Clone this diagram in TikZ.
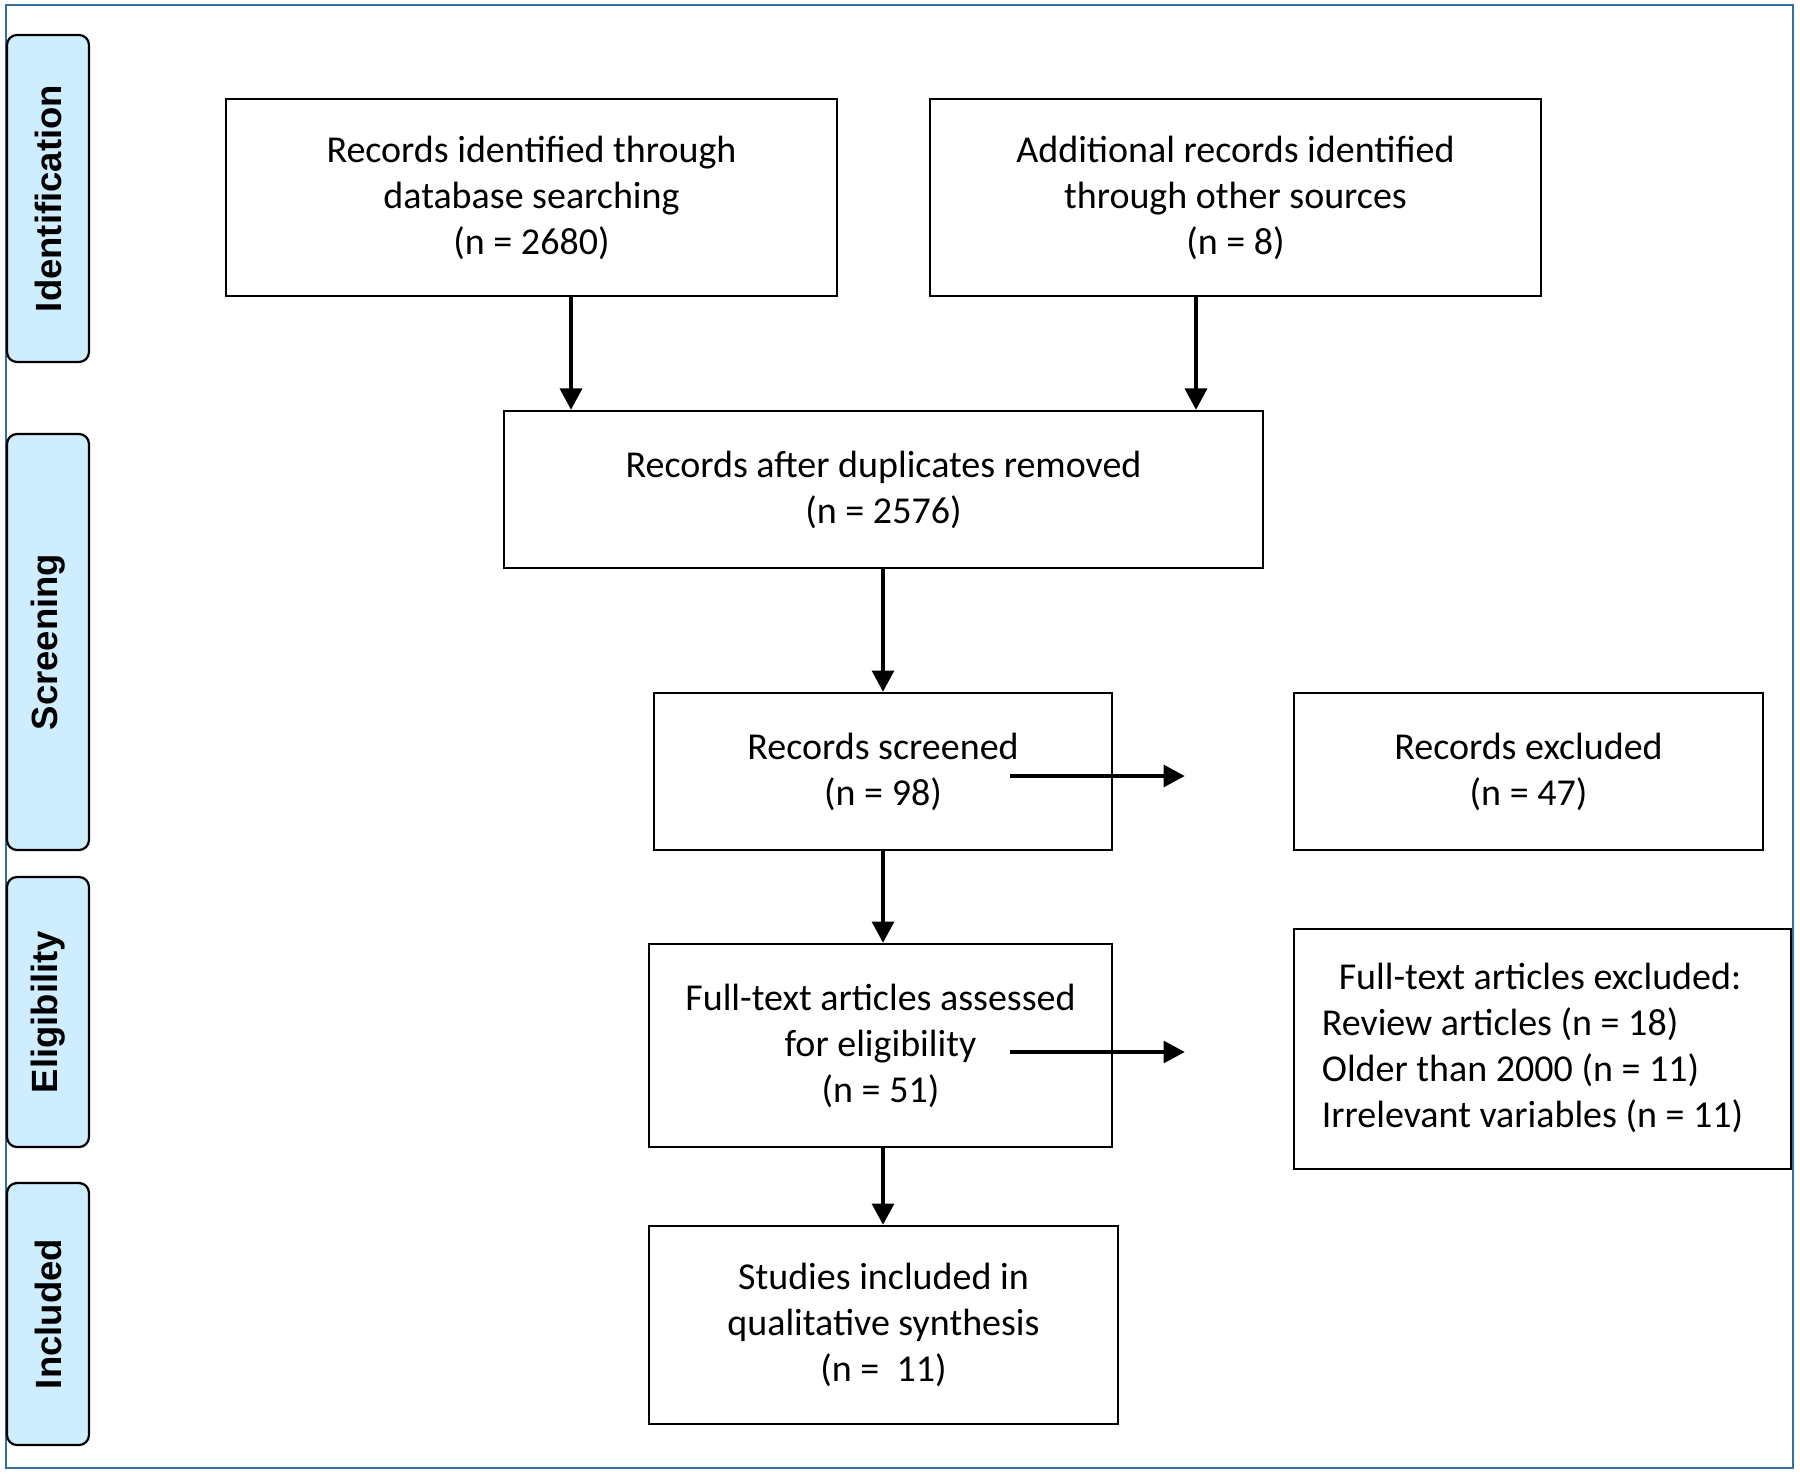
\documentclass[tikz,border=0pt]{standalone}
\usepackage{fontspec}
\setmainfont{Carlito}
\newfontfamily\labfont{Liberation Sans}
\usetikzlibrary{arrows.meta}
\definecolor{sidefill}{RGB}{206,237,255}
\definecolor{framecol}{RGB}{52,112,155}
\begin{document}
\begin{tikzpicture}[x=0.4pt,y=-0.4pt,
  box/.style={draw, line width=1pt, align=center, inner sep=0pt, font=\fontsize{15.2}{18.4}\selectfont},
  side/.style={draw, line width=0.9pt, rounded corners=4pt, fill=sidefill, inner sep=0pt, minimum height=32.8pt, rotate=90, font=\labfont\bfseries\fontsize{14.6}{17}\selectfont},
  arr/.style={line width=1.3pt, -{Triangle[length=8.5pt,width=8.8pt]}}]
\useasboundingbox (0,0) rectangle (1800,1478);
\draw[framecol, line width=0.8pt] (6,5) rectangle (1793,1468);
% side labels
\node[side, minimum width=130.8pt] (sid) at (48,198.5) {Identification};
\node[side, minimum width=166.4pt] (sscr) at (48,642) {Screening};
\node[side, minimum width=108pt] (selig) at (48,1012) {Eligibility};
\node[side, minimum width=104.8pt] (sinc) at (48,1314) {Included};
% boxes
\node[box, minimum width=244.4pt, minimum height=78.8pt] (b1) at (531.5,197.5) {Records identified through\\database searching\\(n = 2680)};
\node[box, minimum width=244.4pt, minimum height=78.8pt] (b2) at (1235.5,197.5) {Additional records identified\\through other sources\\(n = 8)};
\node[box, minimum width=303.6pt, minimum height=62.8pt] (b3) at (883.5,489.5) {Records after duplicates removed\\(n = 2576)};
\node[box, minimum width=183.2pt, minimum height=62.8pt] (b4) at (883,771.5) {Records screened\\(n = 98)};
\node[box, minimum width=187.6pt, minimum height=62.8pt] (b5) at (1528.5,771.5) {Records excluded\\(n = 47)};
\node[box, minimum width=185.2pt, minimum height=81.2pt] (b6) at (880.5,1045.5) {Full-text articles assessed\\for eligibility\\(n = 51)};
\node[box, minimum width=198.8pt, minimum height=96pt] (b7) at (1542.5,1049) {\begin{tabular}{@{}l@{}}\multicolumn{1}{@{}c@{}}{\hspace*{6pt}Full-text articles excluded:}\\Review articles (n = 18)\\Older than 2000 (n = 11)\\Irrelevant variables (n = 11)\end{tabular}\hspace*{8pt}};
\node[box, minimum width=187.6pt, minimum height=79.2pt] (b8) at (883.5,1325) {Studies included in\\qualitative synthesis\\(n = \ 11)};
% connector columns
\coordinate (x1) at (571,0);
\coordinate (x2) at (1196,0);
\draw[arr] (b1.south -| x1) -- (b3.north -| x1);
\draw[arr] (b2.south -| x2) -- (b3.north -| x2);
\draw[arr] (b3.south -| b4.north) -- (b4.north);
\draw[arr] (b4.south) -- (b6.north -| b4.south);
\draw[arr] (b6.south -| b4.south) -- (b8.north -| b4.south);
\draw[arr] ([xshift=-41.2pt,yshift=-1.8pt]b4.east) -- ([xshift=-43.2pt,yshift=-1.8pt]b4.east -| b5.west);
\draw[arr] ([xshift=-41.2pt,yshift=-2.6pt]b6.east) -- ([xshift=-43.2pt,yshift=-2.6pt]b6.east -| b7.west);
\end{tikzpicture}
\end{document}
